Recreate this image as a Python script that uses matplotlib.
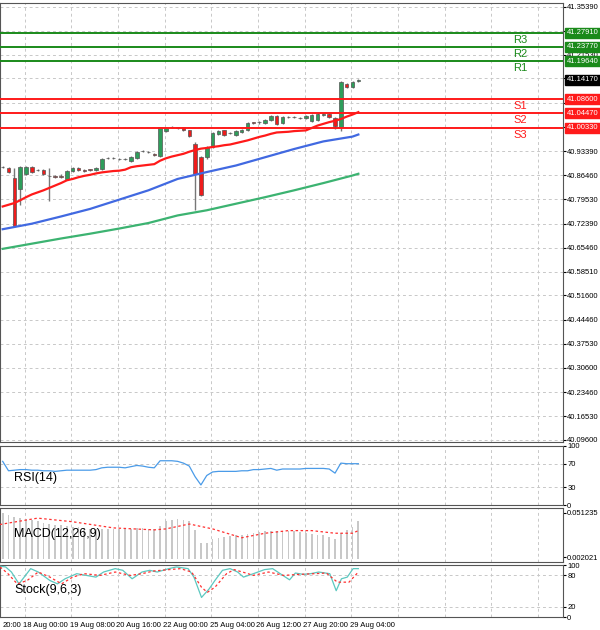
import matplotlib
matplotlib.use("Agg")
import matplotlib.pyplot as plt
import numpy as np

plt.rcParams["font.family"] = "Liberation Sans"

# ---------------- data ----------------
opens = [40.889,40.887,40.856,40.825,40.869,40.890,40.880,40.879,40.863,40.862,40.864,40.853,40.877,40.885,40.881,40.882,40.879,40.883,40.915,40.915,40.912,40.912,40.906,40.915,40.935,40.932,40.925,40.922,40.993,41.004,41.004,41.004,40.995,40.956,40.917,40.917,40.948,40.985,40.995,40.987,40.983,40.990,40.996,41.018,41.018,41.017,41.024,41.036,41.017,41.035,41.034,41.030,41.030,41.022,41.024,41.041,41.043,41.031,41.004,41.130,41.122,41.139]
closes = [40.888,40.873,40.717,40.888,40.890,40.874,40.879,40.869,40.862,40.861,40.859,40.877,40.885,40.879,40.877,40.881,40.886,40.911,40.914,40.916,40.911,40.913,40.917,40.932,40.934,40.931,40.924,41.004,41.001,41.005,41.003,40.995,40.980,40.869,40.808,40.948,40.987,40.993,40.983,40.988,40.993,40.996,41.016,41.017,41.019,41.026,41.038,41.014,41.033,41.034,41.033,41.030,41.038,41.040,41.043,41.042,41.033,41.007,41.135,41.122,41.135,41.140]
highs = [40.893,40.890,40.885,40.892,40.893,40.893,40.883,40.882,40.886,40.866,40.867,40.880,40.888,40.888,40.884,40.884,40.889,40.914,40.917,40.918,40.915,40.915,40.920,40.936,40.937,40.935,40.928,41.006,41.005,41.007,41.006,41.006,40.997,40.960,40.921,40.951,40.990,40.996,40.997,40.990,40.996,40.999,41.019,41.020,41.021,41.029,41.041,41.039,41.036,41.037,41.036,41.033,41.041,41.043,41.046,41.045,41.046,41.034,41.138,41.133,41.138,41.143]
lows = [40.885,40.870,40.714,40.777,40.866,40.871,40.876,40.866,40.790,40.858,40.856,40.850,40.874,40.876,40.874,40.878,40.876,40.880,40.911,40.912,40.908,40.909,40.903,40.912,40.931,40.928,40.921,40.917,40.990,41.001,41.000,40.992,40.977,40.765,40.805,40.912,40.945,40.982,40.980,40.984,40.980,40.987,40.993,41.014,41.015,41.014,41.021,41.011,41.014,41.031,41.030,41.027,41.027,41.019,41.021,41.038,41.030,41.000,40.993,41.119,41.119,41.137]

ma_fast = [40.774,40.779,40.784,40.792,40.801,40.809,40.815,40.821,40.828,40.835,40.842,40.850,40.854,40.859,40.863,40.866,40.870,40.873,40.875,40.877,40.878,40.881,40.888,40.891,40.893,40.895,40.897,40.907,40.914,40.919,40.923,40.927,40.933,40.938,40.942,40.944,40.947,40.949,40.952,40.954,40.958,40.962,40.966,40.971,40.976,40.980,40.985,40.989,40.990,40.991,40.993,40.994,40.995,41.002,41.009,41.014,41.019,41.023,41.028,41.035,41.041,41.048]
ma_idx = [0,5,10,15,20,25,30,35,40,45,50,55,60,61]
ma_mid = [40.708,40.724,40.745,40.767,40.794,40.821,40.854,40.874,40.893,40.917,40.941,40.963,40.977,40.983]
ma_slow = [40.651,40.666,40.681,40.695,40.710,40.726,40.748,40.763,40.782,40.801,40.821,40.842,40.864,40.869]

level_names = ["R3","R2","R1","S1","S2","S3"]
level_values = [41.2791,41.2377,41.1964,41.0860,41.0447,41.0033]
last_price = 41.1417
price_ticks = [41.35390,41.28470,41.21530,41.14600,41.07480,41.00490,40.93390,40.86460,40.79530,40.72390,40.65460,40.58510,40.51600,40.44460,40.37530,40.30600,40.23460,40.16530,40.09600]

rsi = [74,58,59,60,60,59,59,58,58,57,58,59,59,59,59,59,60,63,64,64,64,63,65,67,66,64,63,75,75,75,74,71,66,48,34,50,56,57,57,57,57,58,58,60,60,61,62,59,61,61,61,61,62,62,62,62,61,54,71,70,70,70]

macd_hist = [0.051,0.049,0.046,0.045,0.044,0.043,0.042,0.040,0.039,0.038,0.037,0.036,0.035,0.035,0.034,0.033,0.033,0.033,0.033,0.033,0.033,0.033,0.033,0.034,0.034,0.033,0.033,0.036,0.042,0.043,0.044,0.043,0.042,0.032,0.018,0.018,0.022,0.023,0.024,0.025,0.026,0.027,0.028,0.029,0.030,0.031,0.031,0.031,0.031,0.031,0.031,0.030,0.029,0.028,0.027,0.026,0.024,0.022,0.029,0.032,0.035,0.042]
macd_sig_idx = [-0.5,0,6,12,19,26,28,32,36,41,45,49,53,57,60,61]
macd_sig = [0.0380,0.0386,0.0451,0.0411,0.0343,0.0321,0.0332,0.0386,0.0332,0.0234,0.0284,0.0313,0.0313,0.0284,0.0284,0.0313]

stoch_main_idx = [-0.45,0.5,1.5,2.8,4.8,6.1,8.1,9.4,10.7,12.7,16,17.3,19.3,20.6,22.2,23.9,25.2,26.5,28.5,29.8,31.8,32.8,34.1,35.4,36.4,37.7,39,40.3,41.3,43,44.9,46.3,47.6,49.2,50.2,51.5,52.8,54.2,56.1,57.2,58.1,59.1,60.1,61]
stoch_main = [97.6,96.3,86.5,63.7,93,86.5,70.2,63.7,73.5,83.3,76.7,86.5,93,89.8,73.5,86.5,89.8,86.5,93,96.3,93,76.7,37.6,53.9,70.2,89.8,93,86.5,76.7,83.3,91.1,93,83.3,71.5,84.6,82,83.3,86.5,83.3,50.6,73.5,76.7,93,93]
stoch_sig_idx = [-0.45,0.9,2.5,4.2,6.1,8.1,10.1,12,14,16.7,19.3,21.9,23.9,25.9,28.5,30.5,32.4,34.1,35.1,36.4,38.4,39.7,41.7,43,45.6,48.2,50.9,53.5,55.5,57.4,59.4,61]
stoch_sig = [96.3,83.3,63.7,70.2,86.5,76.7,63.7,76.7,83.3,80,86.5,80,83.3,88.5,91.1,93,86.5,57.2,47.4,57.2,83.3,91.1,84.6,80,86.5,80,82,83.3,84.6,67,67,86.5]

date_labels = ["18 Aug 00:00","19 Aug 08:00","20 Aug 16:00","22 Aug 00:00","25 Aug 04:00","26 Aug 12:00","27 Aug 20:00","29 Aug 04:00"]
date_pos = [3.8,11.8,19.8,27.8,35.8,43.8,51.8,59.8]
grid_x = [3.8+8*k for k in range(12)]

# ---------------- figure ----------------
W, Hh = 600, 630
fig = plt.figure(figsize=(6, 6.3), dpi=100)
pw = 563 / W
def box(top, bot):
    return [0, 1 - bot / Hh, pw, (bot - top) / Hh]

ax = fig.add_axes(box(3, 442))
ax_rsi = fig.add_axes(box(446, 505))
ax_macd = fig.add_axes(box(508, 562))
ax_st = fig.add_axes(box(565, 617))

TFS = 5.5
XL = (-0.46, 96.1)
gridkw = dict(color="#c8c8c8", ls=(0, (3, 3)), lw=0.7, zorder=0)
for a in (ax, ax_rsi, ax_macd, ax_st):
    a.set_xlim(*XL)
    a.set_xticks([])
    for s in a.spines.values():
        s.set_color("#555555"); s.set_linewidth(0.8)
    for gx in grid_x:
        a.axvline(gx, **gridkw)
    a.yaxis.tick_right()
    a.tick_params(axis="y", labelsize=TFS, length=2, pad=1, colors="black")

# main panel
ax.set_ylim(40.0900, 41.3650)
ax.set_yticks(price_ticks)
ax.set_yticklabels([f"{v:.5f}" for v in price_ticks])
for v in price_ticks:
    ax.axhline(v, **gridkw)

x = np.arange(len(opens))
o = np.array(opens); c = np.array(closes)
ax.vlines(x, lows, highs, color="#777777", lw=1, zorder=3)
up = c >= o
bot = np.minimum(o, c); ht = np.abs(c - o)
bh = np.maximum(ht, 0.0008)
ax.bar(x[up], bh[up], bottom=bot[up], width=0.6, color="#2e9e5b", edgecolor="#555555", lw=0.5, zorder=4)
ax.bar(x[~up], bh[~up], bottom=bot[~up], width=0.6, color="#ee1c1c", edgecolor="#555555", lw=0.5, zorder=4)

ax.plot(x, ma_fast, color="#ff1a1a", lw=1.6, zorder=5)
ax.plot(ma_idx, ma_mid, color="#4169e1", lw=1.6, zorder=5)
ax.plot(ma_idx, ma_slow, color="#3cb371", lw=1.6, zorder=5)

for name, v in zip(level_names, level_values):
    col = "#1a8a1a" if name.startswith("R") else "#ff1a1a"
    ax.axhline(v, color=col, lw=1.4, zorder=6)
    ax.annotate(name, xy=(88.7, v), xytext=(0, -1.5), textcoords="offset points",
                ha="center", va="top", color=col, fontsize=8, zorder=7)
    ax.annotate(f"{v:.5f}", xy=(1.0, v), xycoords=("axes fraction", "data"),
                xytext=(2.5, 0), textcoords="offset points", ha="left", va="center",
                fontsize=TFS, color="white", annotation_clip=False, zorder=10,
                bbox=dict(boxstyle="square,pad=0.2", fc=col, ec=col))
ax.annotate(f"{last_price:.5f}", xy=(1.0, last_price), xycoords=("axes fraction", "data"),
            xytext=(2.5, 0), textcoords="offset points", ha="left", va="center",
            fontsize=TFS, color="white", annotation_clip=False, zorder=10,
            bbox=dict(boxstyle="square,pad=0.2", fc="black", ec="black"))

# RSI
ax_rsi.set_ylim(0, 100)
ax_rsi.set_yticks([100, 70, 30, 0])
ax_rsi.set_yticklabels(["100", "70", "30", "0"])
for v in (70, 30):
    ax_rsi.axhline(v, **gridkw)
ax_rsi.plot(x, rsi, color="#4a9be8", lw=0.9)
ax_rsi.text(2, 45, "RSI(14)", fontsize=9, va="center")

# MACD
ax_macd.set_ylim(-0.0034, 0.0563)
ax_macd.set_yticks([0.051235, 0.002021])
ax_macd.set_yticklabels(["0.051235", "0.002021"])
ax_macd.bar(x, macd_hist, width=0.3, color="#c8c8c8", zorder=2)
ax_macd.plot(macd_sig_idx, macd_sig, color="#ff3030", lw=0.9, ls=(0, (2, 2)), zorder=3)
ax_macd.text(2, 0.028, "MACD(12,26,9)", fontsize=9, va="center")

# Stochastic
ax_st.set_ylim(0, 100)
ax_st.set_yticks([100, 80, 20, 0])
ax_st.set_yticklabels(["100", "80", "20", "0"])
for v in (80, 20):
    ax_st.axhline(v, **gridkw)
ax_st.plot(stoch_main_idx, stoch_main, color="#5cc8c0", lw=0.9, zorder=3)
ax_st.plot(stoch_sig_idx, stoch_sig, color="#ff3030", lw=0.9, ls=(0, (2, 2)), zorder=3)
ax_st.text(2, 52, "Stock(9,6,3)", fontsize=9, va="center")

# date labels
ax_st.text(-0.1, -0.09, "20:00", transform=ax_st.get_xaxis_transform(), fontsize=TFS, va="top", ha="left")
for p, lab in zip(date_pos, date_labels):
    ax_st.text(p - 0.3, -0.09, lab, transform=ax_st.get_xaxis_transform(), fontsize=TFS, va="top", ha="left", clip_on=False)

fig.savefig("out.png", dpi=100, facecolor="white")
